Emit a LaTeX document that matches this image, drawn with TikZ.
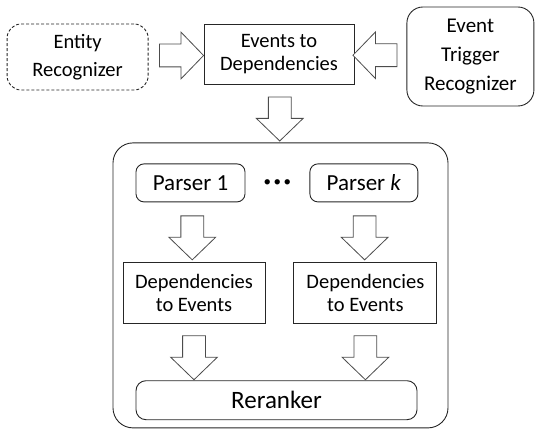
\documentclass[tikz,border=0pt]{standalone}
\usepackage{fontspec}
\setmainfont{Carlito}
\usepackage{tikz}
\usetikzlibrary{shapes,arrows,positioning,calc}

\begin{document}
\begin{tikzpicture}[
    x=1pt, y=-1pt,
    font=\fontsize{20.5}{23}\selectfont,
    plain/.style={rectangle, draw=black!85, line width=0.9pt, align=center, inner sep=0pt},
    rbox/.style={plain, rounded corners=8pt},
    fat/.style={single arrow, draw=black!70, fill=white, line width=0.8pt, minimum height=44pt, minimum width=46pt, single arrow head extend=12pt, single arrow tip angle=92, inner sep=11pt}
]
    \useasboundingbox (0,0) rectangle (535,430);

    % Input recognizers
    \node[plain, minimum width=150pt, minimum height=60pt] (evdep) at (279,54) {Events to\\Dependencies};
    \node[rbox, dash pattern=on 3pt off 2pt, rounded corners=14pt, minimum width=141pt, minimum height=66pt, font=\fontsize{20.5}{28}\selectfont, left=55pt of evdep, yshift=-3pt] (ent) {Entity\\Recognizer};
    \node[rbox, rounded corners=16pt, minimum width=127pt, minimum height=99pt, font=\fontsize{21}{29}\selectfont, right=52pt of evdep, yshift=-2.5pt] (trig) {Event\\Trigger\\Recognizer};

    % Parsing block
    \node[rbox, rounded corners=20pt, minimum width=335pt, minimum height=285pt, below=58pt of evdep, xshift=1.5pt] (main) {};
    \node[rbox, minimum width=109pt, minimum height=38pt, font=\fontsize{23}{26}\selectfont, below right=21pt and 23pt of main.north west] (p1) {Parser 1};
    \node[rbox, minimum width=108pt, minimum height=38pt, font=\fontsize{23}{26}\selectfont, right=64pt of p1] (pk) {Parser \textit{k}};
    \node[font=\fontsize{15}{18}\selectfont, inner sep=0pt] (dots) at ($(p1.east)!0.5!(pk.west)$) {•\hspace{2.5pt}•\hspace{2.5pt}•};
    \node[plain, minimum width=142pt, minimum height=61pt, below=60pt of p1, xshift=3.5pt] (dep1) {Dependencies\\to Events};
    \node[plain, minimum width=143pt, minimum height=61pt, below=60pt of pk, xshift=1.5pt] (depk) {Dependencies\\to Events};
    \node[rbox, rounded corners=10pt, minimum width=281pt, minimum height=39pt, font=\fontsize{25}{28}\selectfont, below right=56pt and 13pt of dep1.south west] (rer) {Reranker};

    % Block arrows
    \node[fat] (a1) at ($(ent.east)!0.5!(evdep.west)$) {};
    \node[fat, shape border rotate=180] (a2) at ($(trig.west)!0.5!(evdep.east)$) {};
    \node[fat, shape border rotate=270] (a3) at ($(evdep.south)!0.5!(main.north)$) {};
    \node[fat, shape border rotate=270] (a4) at ($(p1.south)!0.5!(dep1.north)$) {};
    \node[fat, shape border rotate=270] (a5) at ($(pk.south)!0.5!(depk.north)$) {};
    \node[fat, shape border rotate=270] (a6) at ($(dep1.south)!0.5!(dep1.south |- rer.north)$) {};
    \node[fat, shape border rotate=270] (a7) at ($(depk.south)!0.5!(depk.south |- rer.north)$) {};
\end{tikzpicture}
\end{document}
